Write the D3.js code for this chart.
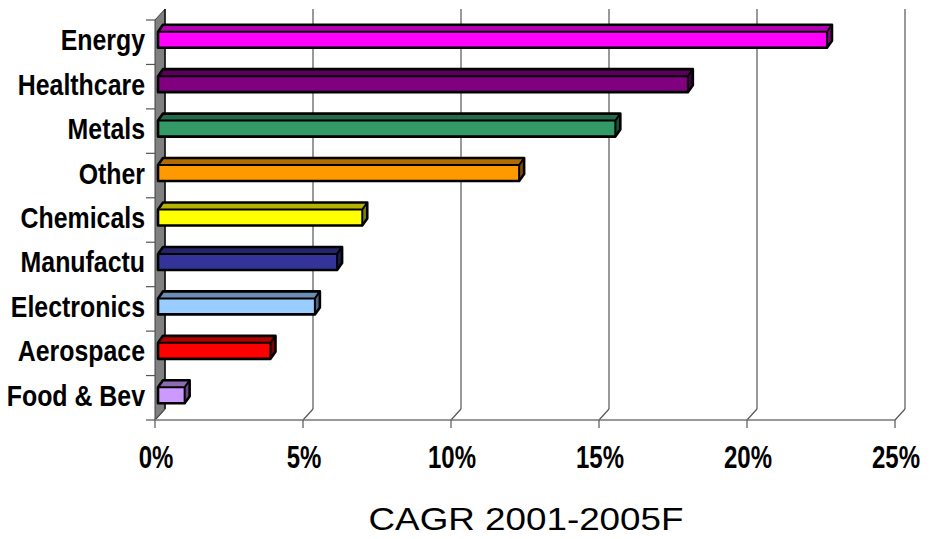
<!DOCTYPE html>
<html>
<head>
<meta charset="utf-8">
<script src="https://cdn.jsdelivr.net/npm/d3@7/dist/d3.min.js"></script>
<style>
  html, body { margin: 0; padding: 0; background: #fff; }
  svg { display: block; }
</style>
</head>
<body>
<svg id="chart" width="933" height="539"></svg>
<script>
const categories = ["Energy", "Healthcare", "Metals", "Other", "Chemicals", "Manufactu", "Electronics", "Aerospace", "Food & Bev"];
const values = [22.6, 17.9, 15.45, 12.2, 6.9, 6.05, 5.3, 3.8, 0.9];
const colors = ["#FF00FF", "#800080", "#339966", "#FF9900", "#FFFF00", "#333399", "#99CCFF", "#FF0000", "#CC99FF"];
const xTicks = [0, 5, 10, 15, 20, 25];
const xTickLabels = ["0%", "5%", "10%", "15%", "20%", "25%"];
const axisTitle = "CAGR 2001-2005F";

const svg = d3.select("#chart");
const x0 = 155, x1 = 895, yTop = 20, yBot = 420;
const DX = 10, DY = 11;           // wall/floor depth offset
const BOX = 3;                    // bar front face offset into depth
const BDX = 5, BDY = 7;           // bar depth
const FACE_H = 16;

const x = d3.scaleLinear().domain([0, 25]).range([x0, x1]);
const y = d3.scaleBand().domain(categories).range([yTop, yBot]).padding(0);

// Left wall
svg.append("polygon")
  .attr("points", [[x0, yTop], [x0 + DX, yTop - DY], [x0 + DX, yBot - DY], [x0, yBot]].map(p => p.join(",")).join(" "))
  .attr("fill", "#808080")
  .attr("stroke", "#404040")
  .attr("stroke-width", 1);

// Back gridlines + floor diagonals
const grid = svg.append("g");
grid.selectAll("line.v").data(xTicks).join("line")
  .attr("class", "v")
  .attr("x1", d => x(d) + DX).attr("x2", d => x(d) + DX)
  .attr("y1", yTop - DY).attr("y2", yBot - DY)
  .attr("stroke", d => d === 0 ? "#111" : "#555")
  .attr("stroke-width", d => d === 0 ? 1.5 : 1.2);
grid.selectAll("line.d").data(xTicks).join("line")
  .attr("class", "d")
  .attr("x1", d => x(d)).attr("x2", d => x(d) + DX)
  .attr("y1", yBot).attr("y2", yBot - DY)
  .attr("stroke", "#555")
  .attr("stroke-width", 1.2);

// Floor front edge
svg.append("line")
  .attr("x1", x0).attr("x2", x1)
  .attr("y1", yBot).attr("y2", yBot)
  .attr("stroke", "#777").attr("stroke-width", 1.6);

// X ticks
svg.append("g").selectAll("line").data(xTicks).join("line")
  .attr("x1", d => x(d)).attr("x2", d => x(d))
  .attr("y1", yBot).attr("y2", yBot + 8)
  .attr("stroke", "#555").attr("stroke-width", 1.2);

// Y ticks at category boundaries
const bounds = categories.map(c => y(c)).concat([yBot]);
svg.append("g").selectAll("line").data(bounds).join("line")
  .attr("x1", x0 - 9).attr("x2", x0)
  .attr("y1", d => d).attr("y2", d => d)
  .attr("stroke", "#555").attr("stroke-width", 1.2);

// Bars
function shade(c, k) {
  const col = d3.rgb(c);
  return d3.rgb(col.r * k, col.g * k, col.b * k).formatHex();
}
const bars = svg.append("g").selectAll("g").data(categories).join("g");
bars.each(function(c, i) {
  const g = d3.select(this);
  const cy = y(c) + y.bandwidth() / 2;
  const bx0 = x(0) + BOX, bx1 = x(values[i]) + BOX;
  const by0 = cy - 10.5, by1 = by0 + FACE_H;
  const pts = a => a.map(p => p.join(",")).join(" ");
  g.append("polygon")
    .attr("points", pts([[bx0, by0], [bx0 + BDX, by0 - BDY], [bx1 + BDX, by0 - BDY], [bx1, by0]]))
    .attr("fill", shade(colors[i], 0.7));
  g.append("polygon")
    .attr("points", pts([[bx1, by0], [bx1 + BDX, by0 - BDY], [bx1 + BDX, by1 - BDY], [bx1, by1]]))
    .attr("fill", shade(colors[i], 0.5));
  g.append("rect")
    .attr("x", bx0).attr("y", by0)
    .attr("width", bx1 - bx0).attr("height", FACE_H)
    .attr("fill", colors[i]);
  g.append("polygon")
    .attr("points", pts([[bx0, by0], [bx0 + BDX, by0 - BDY], [bx1 + BDX, by0 - BDY], [bx1 + BDX, by1 - BDY], [bx1, by1], [bx0, by1]]))
    .attr("fill", "none").attr("stroke", "#000").attr("stroke-width", 2.6)
    .attr("stroke-linejoin", "round");
  g.append("polyline")
    .attr("points", pts([[bx0, by0], [bx1, by0], [bx1 + BDX, by0 - BDY]]))
    .attr("fill", "none").attr("stroke", "#000").attr("stroke-width", 2);
  g.append("line")
    .attr("x1", bx1).attr("x2", bx1).attr("y1", by0).attr("y2", by1)
    .attr("stroke", "#000").attr("stroke-width", 2);
});

// Category labels
svg.append("g").selectAll("text").data(categories).join("text")
  .attr("transform", c => `translate(145,${y(c) + y.bandwidth() / 2 + 8}) scale(0.83,1)`)
  .attr("text-anchor", "end")
  .attr("font-family", "Liberation Sans, Arial, sans-serif")
  .attr("font-weight", "bold")
  .attr("font-size", 30)
  .attr("fill", "#000")
  .text(c => c);

// X tick labels
svg.append("g").selectAll("text").data(xTicks).join("text")
  .attr("transform", d => `translate(${x(d) + 1},468) scale(0.75,1)`)
  .attr("text-anchor", "middle")
  .attr("font-family", "Liberation Sans, Arial, sans-serif")
  .attr("font-weight", "bold")
  .attr("font-size", 32)
  .attr("fill", "#000")
  .text((d, i) => xTickLabels[i]);

// Axis title
svg.append("text")
  .attr("transform", `translate(526,530) scale(1.15,1)`)
  .attr("text-anchor", "middle")
  .attr("font-family", "Liberation Sans, Arial, sans-serif")
  .attr("font-size", 32)
  .attr("fill", "#000")
  .text(axisTitle);
</script>
</body>
</html>
